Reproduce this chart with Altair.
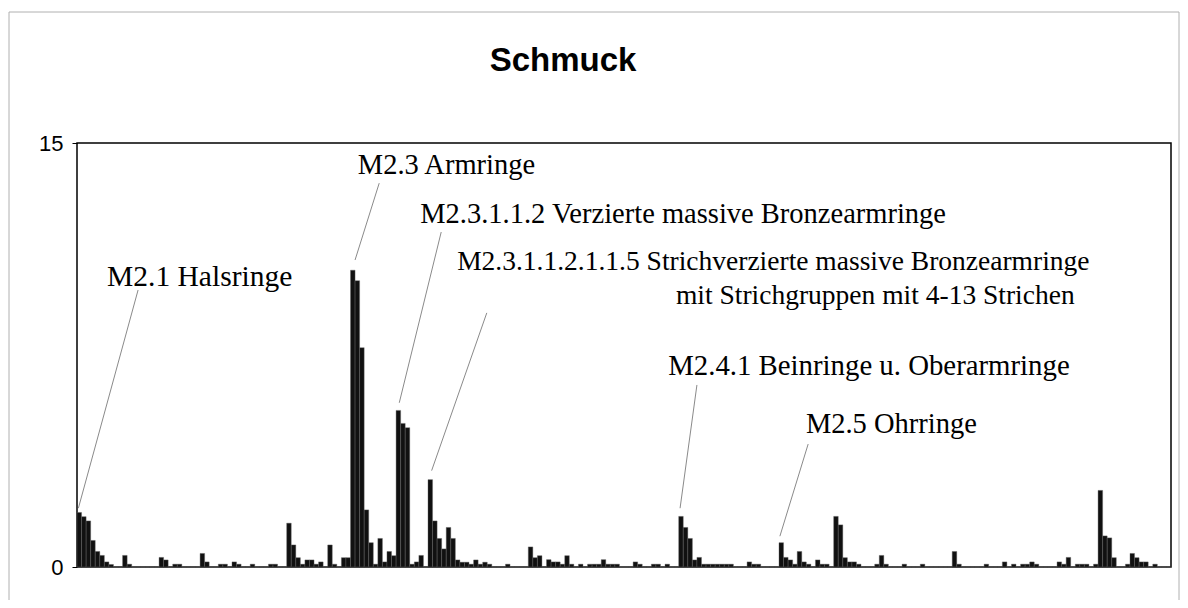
import altair as alt
import pandas as pd

# ---- data ----
values = [
    1.93, 1.78, 1.63, 0.94, 0.55, 0.41, 0.18, 0.09, 0, 0,
    0.41, 0.1, 0, 0, 0, 0, 0, 0, 0.34, 0.25,
    0, 0.1, 0.1, 0, 0, 0, 0, 0.48, 0.18, 0,
    0, 0.1, 0.1, 0, 0.18, 0.1, 0, 0, 0.1, 0,
    0, 0, 0.1, 0.1, 0, 0, 1.55, 0.78, 0.33, 0.1,
    0.25, 0.25, 0.1, 0.18, 0, 0.78, 0.1, 0, 0.33, 0.33,
    10.5, 10.13, 7.76, 2.02, 0.86, 0.1, 1.01, 0.18, 0.55, 0.4,
    5.54, 5.08, 4.93, 0.1, 0.18, 0.41, 0, 3.09, 1.63, 1.01,
    0.64, 1.4, 1.01, 0.25, 0.17, 0.17, 0.1, 0.25, 0.1, 0.17,
    0.1, 0, 0, 0, 0.1, 0, 0, 0, 0, 0.71,
    0.33, 0.4, 0, 0.26, 0.18, 0.18, 0.1, 0.4, 0.1, 0,
    0.1, 0, 0.1, 0.1, 0.1, 0.26, 0.1, 0.1, 0.1, 0,
    0, 0, 0.18, 0.1, 0, 0, 0.1, 0.1, 0, 0.1,
    0, 0, 1.79, 1.4, 1.01, 0.25, 0.34, 0.1, 0.1, 0.1,
    0.1, 0.1, 0.1, 0.1, 0, 0, 0, 0.18, 0.1, 0.1,
    0, 0, 0, 0, 0.86, 0.34, 0.25, 0.1, 0.55, 0.18,
    0.1, 0, 0.25, 0.1, 0.1, 0, 1.79, 1.49, 0.33, 0.18,
    0.18, 0.1, 0, 0, 0, 0.1, 0.41, 0.1, 0, 0,
    0, 0.1, 0, 0, 0, 0.1, 0, 0, 0, 0,
    0, 0, 0.55, 0.1, 0, 0, 0, 0, 0, 0.1,
    0, 0, 0, 0.18, 0, 0.1, 0, 0.1, 0.1, 0.18,
    0.1, 0, 0, 0, 0, 0.18, 0.1, 0.34, 0, 0.1,
    0.1, 0.1, 0, 0.1, 2.71, 1.1, 1.03, 0.33, 0, 0,
    0.1, 0.48, 0.33, 0.18, 0.18, 0, 0.1, 0, 0, 0,
]
positions = list(range(len(values)))

label_texts = [
    "M2.1 Halsringe",
    "M2.3 Armringe",
    "M2.3.1.1.2 Verzierte massive Bronzearmringe",
    "M2.3.1.1.2.1.1.5 Strichverzierte massive Bronzearmringe",
    "mit Strichgruppen mit 4-13 Strichen",
    "M2.4.1 Beinringe u. Oberarmringe",
    "M2.5 Ohrringe",
]
label_x = [6.6, 61.6, 75.3, 83.4, 131.4, 129.7, 159.9]
label_y = [10.26, 14.22, 12.49, 10.79, 9.59, 7.11, 5.06]
label_size = [29.5, 28.5, 28.5, 27.5, 27.5, 28.8, 28.5]

leader_x = [0.3, 61.0, 70.7, 77.8, 132.3, 154.2]
leader_y = [2.08, 10.86, 5.81, 3.41, 2.08, 1.09]
leader_x2 = [13.4, 66.3, 79.9, 89.9, 136.0, 160.4]
leader_y2 = [9.80, 13.58, 11.85, 8.99, 6.44, 4.35]

title_text = ["Schmuck"]

N = len(values)
W, H = 1094, 424

bars_df = pd.DataFrame({"pos": positions, "value": values})
labels_df = pd.DataFrame({"text": label_texts, "x": label_x, "y": label_y, "size": label_size})
leaders_df = pd.DataFrame({"x": leader_x, "y": leader_y, "x2": leader_x2, "y2": leader_y2})
title_df = pd.DataFrame({"text": title_text})
frame_df = pd.DataFrame({"k": [0]})

xscale = alt.Scale(domain=[0, N], nice=False, zero=False)
yscale = alt.Scale(domain=[0, 15], nice=False)

bars = alt.Chart(bars_df).transform_calculate(
    pos2="datum.pos + 1"
).mark_rect(fill="#111111", stroke="#666666", strokeWidth=0.4).encode(
    x=alt.X("pos:Q", scale=xscale, axis=None),
    x2="pos2:Q",
    y=alt.Y("value:Q", scale=yscale,
            axis=alt.Axis(values=[0, 15], title=None, grid=False, domain=False,
                          tickSize=5, tickColor="#000000", labelFontSize=22,
                          labelFont="Liberation Sans", labelColor="#000000",
                          labelPadding=9)),
    y2=alt.datum(0),
)

leaders = alt.Chart(leaders_df).mark_rule(color="#8a8a8a", strokeWidth=1).encode(
    x=alt.X("x:Q", scale=xscale),
    y=alt.Y("y:Q", scale=yscale),
    x2="x2:Q",
    y2="y2:Q",
)

labels = alt.Chart(labels_df).mark_text(
    align="left", baseline="middle", font="Liberation Serif", color="#000000"
).encode(
    x=alt.X("x:Q", scale=xscale),
    y=alt.Y("y:Q", scale=yscale),
    text="text:N",
    size=alt.Size("size:Q", scale=None, legend=None),
)

title = alt.Chart(title_df).mark_text(
    align="center", baseline="middle", font="Liberation Sans", fontSize=33,
    fontWeight="bold", color="#000000"
).encode(
    x=alt.value(486), y=alt.value(-82), text="text:N"
)

# outer chart-area border (decoration)
outer = alt.Chart(frame_df).mark_rect(fill="transparent", stroke="#b0b0b0", strokeWidth=1).encode(
    x=alt.value(-68), x2=alt.value(1102), y=alt.value(-131), y2=alt.value(470)
)

chart = alt.layer(outer, bars, leaders, labels, title).properties(
    width=W, height=H,
    autosize=alt.AutoSizeParams(type="none"),
    padding={"left": 69, "top": 135, "right": 9, "bottom": 33},
).configure_view(stroke="#000000", strokeWidth=1.5)

chart.save("out.html", embed_options={"renderer": "svg", "actions": False})
